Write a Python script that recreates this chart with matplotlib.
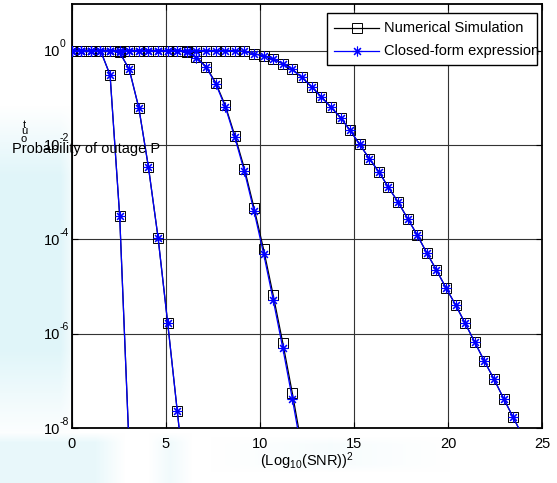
import numpy as np
import matplotlib
matplotlib.use("Agg")
import matplotlib.pyplot as plt
from matplotlib.patches import Rectangle
from matplotlib.ticker import FixedLocator, NullLocator, NullFormatter

plt.rcParams['font.family'] = ['Liberation Sans', 'DejaVu Sans']
plt.rcParams['mathtext.fontset'] = 'custom'
plt.rcParams['mathtext.rm'] = 'Liberation Sans'
plt.rcParams['mathtext.it'] = 'Liberation Sans:italic'

# ---------------- data ----------------
snr_grid = [0.00, 0.51, 1.02, 1.53, 2.04, 2.55, 3.06, 3.57, 4.08, 4.59, 5.10, 5.61,
            6.12, 6.63, 7.14, 7.65, 8.16, 8.67, 9.18, 9.69, 10.20, 10.71, 11.22, 11.73,
            12.24, 12.76, 13.27, 13.78, 14.29, 14.80, 15.31, 15.82, 16.33, 16.84, 17.35,
            17.86, 18.37, 18.88, 19.39, 19.90, 20.41, 20.92, 21.43, 21.94, 22.45, 22.96,
            23.47, 23.98]

# log10 of outage probability
c1_sim_log = [0, 0, 0, 0, -0.52, -3.50, -8.49]
c1_cf_log = [0, 0, 0, 0, -0.52, -3.50, -8.49]
c2_sim_log = [0, 0, 0, 0, 0, -0.04, -0.40, -1.22, -2.47, -3.96, -5.76, -7.63, -9.50]
c2_cf_log = [0, 0, 0, 0, 0, -0.04, -0.40, -1.22, -2.47, -3.96, -5.76, -7.63, -9.50]
c3_sim_log = [0] * 12 + [-0.03, -0.14, -0.34, -0.68, -1.16, -1.80, -2.50, -3.33,
                         -4.21, -5.18, -6.19, -7.26, -8.40]
c3_cf_log = [0] * 12 + [-0.03, -0.15, -0.35, -0.70, -1.19, -1.84, -2.56, -3.40,
                        -4.30, -5.28, -6.30, -7.38, -8.52]
c4_sim_log = [0] * 18 + [-0.02, -0.07, -0.11, -0.18, -0.28, -0.40, -0.57, -0.77,
                         -0.98, -1.20, -1.42, -1.69, -1.99, -2.29, -2.57, -2.90,
                         -3.21, -3.56, -3.91, -4.29, -4.65, -5.03, -5.39, -5.78,
                         -6.18, -6.58, -6.96, -7.37, -7.77, -8.17]
c4_cf_log = list(c4_sim_log)

sim_curves = [c1_sim_log, c2_sim_log, c3_sim_log, c4_sim_log]
cf_curves = [c1_cf_log, c2_cf_log, c3_cf_log, c4_cf_log]

x_ticks = [0, 5, 10, 15, 20, 25]
y_tick_exps = [-8, -6, -4, -2, 0]
legend_labels = ['Numerical Simulation', 'Closed-form expression']

# ---------------- figure ----------------
W, H = 557, 483
fig = plt.figure(figsize=(W / 100, H / 100), dpi=100)
fig.patch.set_alpha(0)

# faint watermark-like background
bg = np.ones((H, W, 3))
yy, xx = np.mgrid[0:H, 0:W]
cyan = np.array([0.84, 0.95, 0.97])
a_left = np.clip((yy - 105) / 70, 0, 1) * np.clip((440 - yy) / 90, 0, 1) * np.clip((80 - xx) / 20, 0, 1)
a_bot = np.clip((yy - 432) / 10, 0, 1) * (np.clip((125 - xx) / 30, 0, 1) * 0.55
                                        + np.clip(1 - np.abs(xx - 170) / 22, 0, 1) * 0.35)
a_band = np.clip((yy - 436) / 8, 0, 1) * np.clip((472 - yy) / 8, 0, 1) * \
    np.clip(1 - np.abs(xx - 330) / 120, 0, 1) * 0.2
alpha = np.clip(a_left * 0.75 + a_bot + a_band, 0, 1)[..., None]
bg = bg * (1 - alpha) + cyan * alpha
bga = fig.add_axes([0, 0, 1, 1], zorder=-10)
bga.imshow(bg, aspect='auto', extent=[0, W, H, 0])
bga.axis('off')

left, right, top, bottom = 71.7, 542.0, 4.0, 428.3
ax = fig.add_axes([left / W, 1 - bottom / H, (right - left) / W, (bottom - top) / H])
ax.set_facecolor('white')

for sim, cf in zip(sim_curves, cf_curves):
    n = len(sim)
    xs = snr_grid[:n]
    ax.plot(xs, 10 ** np.array(sim, dtype=float), color='black', lw=0.9,
            marker='s', ms=6.8, mfc='none', mec='black', mew=0.7, zorder=3)
    ax.plot(xs, 10 ** np.array(cf, dtype=float), color='#0000ff', lw=0.9,
            marker=(8, 2, 0), ms=7, mec='#0000ff', mew=0.8, zorder=4)

ax.set_yscale('log')
ax.set_xlim(0, 25)
ax.set_ylim(1e-8, 10 ** 0.985)
ax.xaxis.set_major_locator(FixedLocator(x_ticks))
ax.yaxis.set_major_locator(FixedLocator([10.0 ** e for e in y_tick_exps]))
ax.yaxis.set_major_formatter(NullFormatter())
ax.yaxis.set_minor_locator(NullLocator())
ax.yaxis.set_minor_formatter(NullFormatter())
ax.xaxis.set_minor_locator(NullLocator())
ax.tick_params(direction='in', length=4, width=0.8, labelsize=10.5, top=True, right=True)
ax.tick_params(axis='x', pad=6)
ax.grid(True, color='#333333', lw=0.8, ls='-')
for s in ax.spines.values():
    s.set_linewidth(1.3)

# y tick labels in MATLAB style: "10" with a small raised exponent
ytrans = ax.get_yaxis_transform()
for e in y_tick_exps:
    ax.annotate('10', xy=(0, 10.0 ** e), xycoords=ytrans, xytext=(-8.5, 0),
                textcoords='offset points', ha='right', va='center_baseline',
                fontsize=10.5, annotation_clip=False)
    ax.annotate(str(e), xy=(0, 10.0 ** e), xycoords=ytrans, xytext=(-8.5, 5.5),
                textcoords='offset points', ha='left', va='center_baseline',
                fontsize=7.5, annotation_clip=False)

# legend drawn manually (text overflows its box as in the original)
lx0, lx1 = (326.7 - left) / (right - left), (536.7 - left) / (right - left)
ly1 = 1 - (12.7 - top) / (bottom - top)
ly0 = 1 - (65.0 - top) / (bottom - top)
ax.add_patch(Rectangle((lx0, ly0), lx1 - lx0, ly1 - ly0, transform=ax.transAxes,
                       facecolor='white', edgecolor='black', lw=1.0, zorder=10, clip_on=False))
rows = [1 - (27.5 - top) / (bottom - top), 1 - (51.0 - top) / (bottom - top)]
sx0, sx1 = (334 - left) / (right - left), (379 - left) / (right - left)
smid = (357 - left) / (right - left)
tx = (384 - left) / (right - left)
ax.plot([sx0, sx1], [rows[0]] * 2, color='black', lw=0.9, transform=ax.transAxes, zorder=11, clip_on=False)
ax.plot([smid], [rows[0]], marker='s', ms=6.8, mfc='none', mec='black', mew=0.7,
        transform=ax.transAxes, zorder=11, clip_on=False)
ax.plot([sx0, sx1], [rows[1]] * 2, color='#0000ff', lw=0.9, transform=ax.transAxes, zorder=11, clip_on=False)
ax.plot([smid], [rows[1]], marker=(8, 2, 0), ms=7, mec='#0000ff', mew=0.8,
        transform=ax.transAxes, zorder=11, clip_on=False)
for r, lab in zip(rows, legend_labels):
    ax.text(tx, r, lab, transform=ax.transAxes, fontsize=10.5, va='center', ha='left',
            zorder=12, clip_on=False)

# axis labels (reproducing the original's odd placement)
fig.text(12.5 / W, 1 - 152.5 / H, 'Probability of outage P', fontsize=10.5,
         ha='left', va='baseline')
for ch, yc in zip(['t', 'u', 'o'], [125.5, 131.5, 139.5]):
    fig.text(24 / W, 1 - yc / H, ch, fontsize=8, ha='center', va='center')
fig.text(307 / W, 1 - 466 / H, '(Log$_{10}$(SNR))$^{2}$', fontsize=10.5,
         ha='center', va='baseline')

fig.savefig('out.png', dpi=100)
